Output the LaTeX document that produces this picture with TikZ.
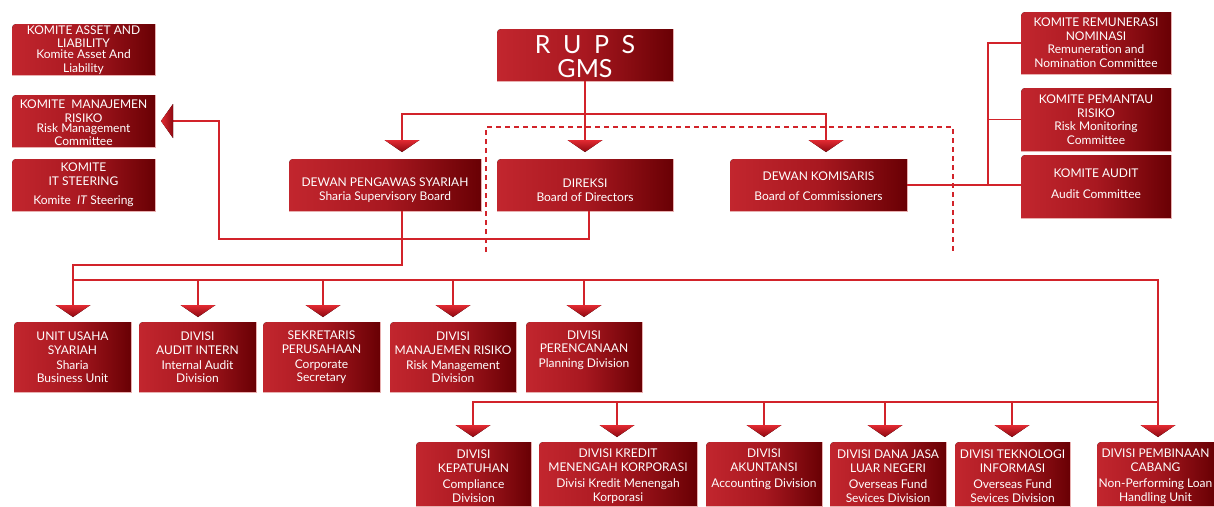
\documentclass[tikz,border=0pt]{standalone}
\usepackage{fontspec}
\setmainfont{Lato}
\definecolor{lnred}{RGB}{210,35,42}
\definecolor{bxl}{RGB}{194,38,46}
\definecolor{bxm}{RGB}{168,24,32}
\definecolor{bxr}{RGB}{105,0,4}
\definecolor{arl}{RGB}{226,42,50}
\definecolor{ard}{RGB}{140,8,16}
\definecolor{edgec}{RGB}{232,176,176}
\tikzset{
  conn/.style={draw=lnred, line width=1.7pt},
  dashconn/.style={draw=lnred, line width=1.5pt, dash pattern=on 5pt off 4pt},
  boxfill/.style={left color=bxl, right color=bxr, middle color=bxm},
  boxedge/.style={draw=edgec, line width=0.7pt},
  boxnode/.style={inner sep=0pt, outer sep=0pt},
  boxtext/.style={text=white, align=center, inner sep=0pt, font=\fontsize{12}{13.5}\selectfont},
  arrfill/.style={top color=arl, bottom color=ard},
  larrfill/.style={left color=arl, right color=ard},
}
% \orgbox[text offset]{name}{x1}{y1}{x2}{y2}{text}
\newcommand\orgbox[7][0]{%
  \fill[boxfill] (#3,#6) -- (#3,#4+9) .. controls (#3,#4) .. (#3+9,#4) -- (#5,#4) -- (#5,#6) -- cycle;
  \draw[boxedge] (#3,#6) -- (#5,#6) -- (#5,#4);
  \node[boxnode, minimum width={(#5-#3)*1pt}, minimum height={(#6-#4)*1pt}] (#2) at ({(#3+#5)/2},{(#4+#6)/2}) {};
  \node[boxtext] (#2-t) at ([yshift={-(#1)*1pt}]#2.center) {#7};
}
% \darr{name}{x}{ytop}
\newcommand\darr[3]{%
  \fill[arrfill] (#2-17.5,#3) -- (#2+17.5,#3) -- (#2,#3+12) -- cycle;
  \coordinate (#1) at (#2,#3);
}
\begin{document}
\begin{tikzpicture}[x=1pt,y=-1pt]
\useasboundingbox (0,0) rectangle (1214,506);
\clip (0,0) rectangle (1214,506);

% ---------- boxes ----------
\orgbox[0.5]{kal}{12}{24}{155}{75}{KOMITE ASSET AND\\LIABILITY\\[-2.5pt]Komite Asset And\\Liability}
\orgbox[2]{kmr}{12}{95}{155}{147}{KOMITE\ \ MANAJEMEN\\RISIKO\\[-3.5pt]Risk Management\\Committee}
\orgbox[0]{kit}{12}{159}{155}{211}{KOMITE\\IT STEERING\\[6pt]Komite\ \ \textit{IT} Steering}

\begin{scope}[boxtext/.append style={font=\fontsize{25}{24}\selectfont}]
\orgbox[2]{rups}{497}{29}{673}{81}{R\hspace{0.5em}U\hspace{0.5em}P\hspace{0.5em}S\\GMS}
\end{scope}

\orgbox[5]{dps}{289}{159}{481}{211}{DEWAN PENGAWAS SYARIAH\\Sharia Supervisory Board}
\orgbox[5]{dir}{497}{159}{673}{211}{DIREKSI\\Board of Directors}
\orgbox[1]{dk}{730}{159}{907}{211}{DEWAN KOMISARIS\\[7pt]Board of Commissioners}

\orgbox[-0.5]{rem}{1021}{12}{1171}{74}{KOMITE REMUNERASI\\NOMINASI\\Remuneration and\\Nomination Committee}
\orgbox[0]{pem}{1021}{88}{1171}{151}{KOMITE PEMANTAU\\RISIKO\\Risk Monitoring\\Committee}
\orgbox[-3]{aud}{1021}{155}{1171}{218}{KOMITE AUDIT\\[7pt]Audit Committee}

\orgbox[0.5]{uus}{14}{322}{131}{392}{UNIT USAHA\\SYARIAH\\[1.5pt]Sharia\\Business Unit}
\orgbox[0.5]{dai}{139}{322}{256}{392}{DIVISI\\AUDIT INTERN\\[1.5pt]Internal Audit\\Division}
\orgbox[0.5]{sek}{263}{322}{380}{392}{SEKRETARIS\\PERUSAHAAN\\[1.5pt]Corporate\\Secretary}
\orgbox[0.5]{dmr}{390}{322}{516}{392}{DIVISI\\MANAJEMEN RISIKO\\[1.5pt]Risk Management\\Division}
\orgbox[-7]{per}{526}{322}{642}{392}{DIVISI\\PERENCANAAN\\[1.5pt]Planning Division}

\orgbox[2]{kep}{416}{442}{531}{506}{DIVISI\\KEPATUHAN\\[3pt]Compliance\\Division}
\orgbox[2]{krd}{539}{442}{697}{506}{DIVISI KREDIT\\MENENGAH KORPORASI\\[3pt]Divisi Kredit Menengah\\Korporasi}
\orgbox[-4.5]{aku}{706}{442}{822}{506}{DIVISI\\AKUNTANSI\\[3pt]Accounting Division}
\orgbox[2]{dana}{830}{442}{946}{506}{DIVISI DANA JASA\\LUAR NEGERI\\[3pt]Overseas Fund\\Sevices Division}
\orgbox[2]{dti}{955}{442}{1070}{506}{DIVISI TEKNOLOGI\\INFORMASI\\[3pt]Overseas Fund\\Sevices Division}
\orgbox[2]{pmb}{1097}{442}{1214}{506}{DIVISI PEMBINAAN\\CABANG\\[3pt]Non-Performing Loan\\Handling Unit}

% ---------- junction coordinates ----------
\coordinate (j1) at (402,114);
\coordinate (j2) at (826,114);
\coordinate (j3) at (73,265);
\coordinate (b1) at (73,280);
\coordinate (b2) at (1158,280);
\coordinate (b3) at (1158,402);
\coordinate (j4) at (219,239);
\coordinate (j5) at (988,185);
\coordinate (dl1) at (486,252);
\coordinate (dl2) at (486,127);
\coordinate (dl3) at (953,127);
\coordinate (dl4) at (953,252);

% ---------- dashed frame ----------
\draw[dashconn] (dl1) -- (dl2) -- (dl3) -- (dl4);

% ---------- arrows (coordinates) ----------
\coordinate (aDPS) at (402,140);
\coordinate (aDIR) at (585,140);
\coordinate (aDK) at (826,140);
\coordinate (aKMR) at (173,121);
\coordinate (aUUS) at (73,305);
\coordinate (aDAI) at (198,305);
\coordinate (aSEK) at (323,305);
\coordinate (aDMR) at (453,305);
\coordinate (aPER) at (584,305);
\coordinate (aKEP) at (473,425);
\coordinate (aKRD) at (617,425);
\coordinate (aAKU) at (764,425);
\coordinate (aDANA) at (885,425);
\coordinate (aDTI) at (1012,425);
\coordinate (aPMB) at (1158,425);

% ---------- connectors ----------
\draw[conn] (rups.south) -- (aDIR);
\draw[conn] (aDPS) -- (j1) -- (j2) -- (aDK);
\draw[conn] (dps.south -| aDPS) |- (j3) -- (aUUS);
\draw[conn] (b1) -- (b2) -- (aPMB);
\foreach \a in {aDAI,aSEK,aDMR,aPER}{\draw[conn] (\a |- b1) -- (\a);}
\draw[conn] ([xshift=4pt]dir.south) |- (j4) |- (aKMR);
\draw[conn] (dk.east) -- (j5) -- (j5 -| aud.west);
\draw[conn] (j5) |- (rem.west);
\draw[conn] (j5 |- pem.west) -- (pem.west);
\draw[conn] (aKEP) -- (aKEP |- b3) -- (b3);
\foreach \a in {aKRD,aAKU,aDANA,aDTI}{\draw[conn] (\a |- b3) -- (\a);}

% ---------- arrow heads ----------
\darr{hDPS}{402}{140}
\darr{hDIR}{585}{140}
\darr{hDK}{826}{140}
\darr{hUUS}{73}{305}
\darr{hDAI}{198}{305}
\darr{hSEK}{323}{305}
\darr{hDMR}{453}{305}
\darr{hPER}{584}{305}
\darr{hKEP}{473}{425}
\darr{hKRD}{617}{425}
\darr{hAKU}{764}{425}
\darr{hDANA}{885}{425}
\darr{hDTI}{1012}{425}
\darr{hPMB}{1158}{425}
\fill[larrfill] (173,104) -- (173,138) -- (161,121) -- cycle;
\end{tikzpicture}
\end{document}
